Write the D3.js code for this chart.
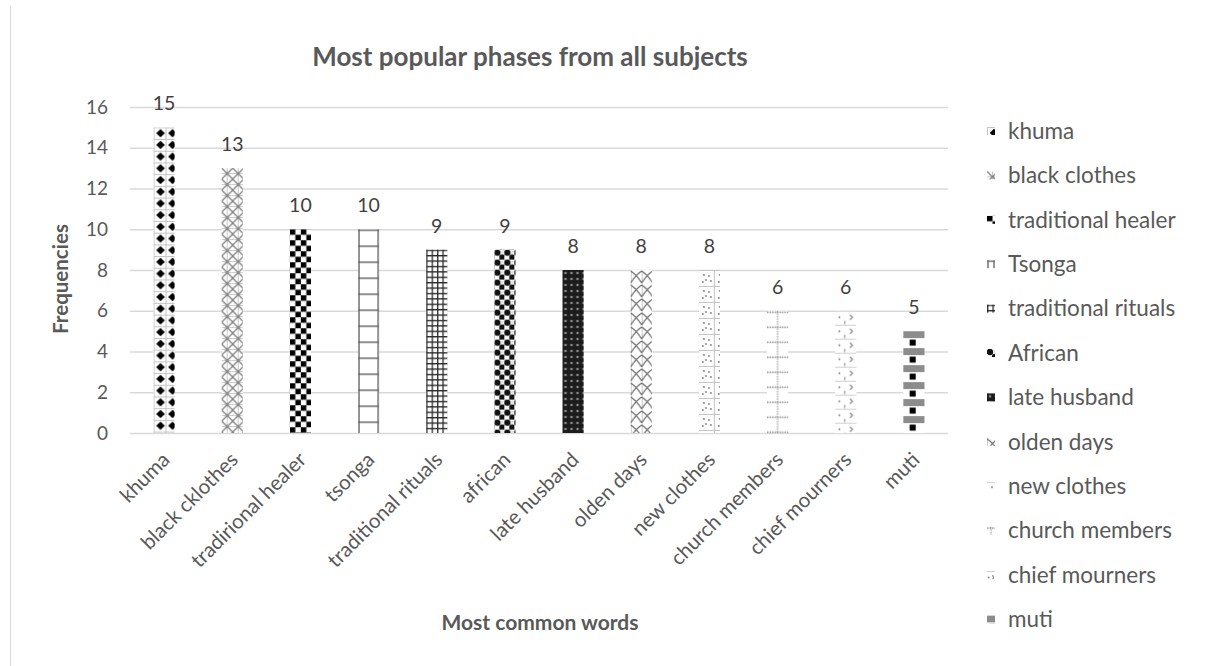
<!DOCTYPE html>
<html>
<head>
<meta charset="utf-8">
<script src="https://cdn.jsdelivr.net/npm/d3@7/dist/d3.min.js"></script>
<style>
  html, body { margin: 0; padding: 0; background: #ffffff; }
  svg { display: block; font-family: Lato, "Open Sans", sans-serif; }
</style>
</head>
<body>
<svg id="chart" width="1214" height="666"></svg>
<script>
// Phrase frequencies
const categories = ["khuma", "black cklothes", "tradirional healer", "tsonga", "traditional rituals", "african",
  "late husband", "olden days", "new clothes", "church members", "chief mourners", "muti"];
const legendLabels = ["khuma", "black clothes", "traditional healer", "Tsonga", "traditional rituals", "African",
  "late husband", "olden days", "new clothes", "church members", "chief mourners", "muti"];
const frequencies = [15, 13, 10, 10, 9, 9, 8, 8, 8, 6, 6, 5];
const yTicks = [0, 2, 4, 6, 8, 10, 12, 14, 16];
const patternKinds = ["diamond", "lattice", "checker", "ladder", "grid", "sphere",
  "weave", "cross", "dots", "dash", "arrow", "band"];

const chartTitle = "Most popular phases from all subjects";
const xTitle = "Most common words";
const yTitle = "Frequencies";

const TEXT = "#595959";
const svg = d3.select("#chart");
const defs = svg.append("defs");

const plot = { left: 130, right: 948, top: 107, bottom: 433 };

const x = d3.scaleBand().domain(categories).range([plot.left, plot.right]).paddingInner(0.69).paddingOuter(0.345);
const y = d3.scaleLinear().domain([0, 16]).range([plot.bottom, plot.top]);

// Pattern fills, anchored at (px, py); w = width of the filled shape
function addPattern(id, kind, px, py, w) {
  const p = defs.append("pattern").attr("id", id).attr("patternUnits", "userSpaceOnUse")
    .attr("x", px).attr("y", py);
  const size = (pw, ph) => { p.attr("width", pw).attr("height", ph);
    p.append("rect").attr("width", pw).attr("height", ph).attr("fill", "#fff"); };
  if (kind === "diamond") {
    size(12, 11.7);
    p.append("path").attr("d", "M0,0.5H12M0.5,0V11.7").attr("stroke", "#c4c4c4").attr("stroke-width", 1);
    p.append("path").attr("d", "M7,1.6L11.3,5.85L7,10.1L2.7,5.85Z").attr("fill", "#000");
  } else if (kind === "lattice") {
    size(11, 11);
    p.append("path").attr("d", "M0,5.5H11M5.5,0V11").attr("stroke", "#c8c8c8").attr("stroke-width", 1);
    p.append("path").attr("d", "M0,0L11,11M11,0L0,11").attr("stroke", "#7f7f7f").attr("stroke-width", 1.3);
  } else if (kind === "checker") {
    size(11, 11);
    p.append("rect").attr("x", 0).attr("y", 0).attr("width", 5.5).attr("height", 5.5).attr("fill", "#000");
    p.append("rect").attr("x", 5.5).attr("y", 5.5).attr("width", 5.5).attr("height", 5.5).attr("fill", "#000");
  } else if (kind === "ladder") {
    size(w, 16);
    p.append("path").attr("d", `M1,0V16M${w - 1},0V16M0,1H${w}`).attr("stroke", "#6a6a6a").attr("stroke-width", 1.4);
  } else if (kind === "grid") {
    size(5.4, 5.4);
    p.append("path").attr("d", "M0,0.7H5.4M0.7,0V5.4").attr("stroke", "#2a2a2a").attr("stroke-width", 1.3);
  } else if (kind === "sphere") {
    size(10, 10);
    p.append("circle").attr("cx", 3).attr("cy", 3).attr("r", 3.2).attr("fill", "#111");
    p.append("circle").attr("cx", 8).attr("cy", 8).attr("r", 3.2).attr("fill", "#111");
    p.append("rect").attr("x", 7).attr("y", 1).attr("width", 2.5).attr("height", 2.5).attr("fill", "#ddd");
  } else if (kind === "weave") {
    size(6, 6);
    p.append("rect").attr("width", 6).attr("height", 6).attr("fill", "#1c1c1c");
    p.append("circle").attr("cx", 3).attr("cy", 3).attr("r", 1.3).attr("fill", "#8a8a8a");
  } else if (kind === "cross") {
    size(11, 14);
    p.append("path").attr("d", "M0.5,0V14").attr("stroke", "#c8c8c8").attr("stroke-width", 1);
    p.append("path").attr("d", "M0,1Q6,5 11,13M11,1Q5,5 0,13").attr("fill", "none").attr("stroke", "#6f6f6f").attr("stroke-width", 1.3);
  } else if (kind === "dots") {
    size(16, 16);
    p.append("path").attr("d", "M0,0.5H16M15.5,0V16").attr("stroke", "#c4c4c4").attr("stroke-width", 1);
    [[5, 5], [10, 6], [7, 10], [12, 11], [4, 12]].forEach(([cx, cy]) =>
      p.append("circle").attr("cx", cx).attr("cy", cy).attr("r", 0.9).attr("fill", "#7a7a7a"));
  } else if (kind === "dash") {
    size(w, 15);
    p.append("path").attr("d", `M${w / 2},0V15`).attr("stroke", "#9a9a9a").attr("stroke-width", 1.2).attr("stroke-dasharray", "1.5,1");
    p.append("path").attr("d", `M0,1.5H${w}`).attr("stroke", "#8a8a8a").attr("stroke-width", 1.4).attr("stroke-dasharray", "1.5,1");
  } else if (kind === "arrow") {
    size(w, 14);
    p.append("path").attr("d", `M0,0.5H${w}`).attr("stroke", "#d0d0d0").attr("stroke-width", 1);
    p.append("path").attr("d", `M${w * 0.7},4L${w * 0.82},6.5L${w * 0.7},9`).attr("fill", "none").attr("stroke", "#8a8a8a").attr("stroke-width", 1.2);
    p.append("circle").attr("cx", w * 0.2).attr("cy", 6.5).attr("r", 1).attr("fill", "#8a8a8a");
    p.append("path").attr("d", `M${w * 0.45},10L${w * 0.45},13.5`).attr("stroke", "#9a9a9a").attr("stroke-width", 1.2);
  } else if (kind === "band") {
    size(w, 17);
    p.append("rect").attr("x", 0).attr("y", 0).attr("width", w).attr("height", 7).attr("fill", "#8c8c8c");
    p.append("rect").attr("x", w * 0.3).attr("y", 8.5).attr("width", 6).attr("height", 6).attr("fill", "#000");
  }
  return `url(#${id})`;
}

// Chart area border
svg.append("line").attr("x1", 10.5).attr("x2", 10.5).attr("y1", 6).attr("y2", 666)
  .attr("stroke", "#d9d9d9").attr("stroke-width", 1);

// Title
svg.append("text").attr("x", 530).attr("y", 66).attr("text-anchor", "middle")
  .attr("font-size", 26).attr("font-weight", "bold").attr("fill", TEXT).text(chartTitle);

// Gridlines and y tick labels
const yAxis = svg.append("g").attr("transform", `translate(${plot.left},0)`)
  .call(d3.axisLeft(y).tickValues(yTicks).tickSize(-(plot.right - plot.left)).tickPadding(22));
yAxis.select(".domain").remove();
yAxis.selectAll(".tick line").attr("stroke", "#d9d9d9").attr("stroke-width", 1.5);
yAxis.selectAll(".tick text").attr("fill", TEXT).attr("font-size", 19).attr("font-family", "Lato");

// Bars
const barG = svg.append("g");
frequencies.forEach((v, i) => {
  const bx = x(categories[i]);
  const fill = addPattern(`bar-fill-${i}`, patternKinds[i], bx, y(v), x.bandwidth());
  barG.append("rect").attr("x", bx).attr("y", y(v)).attr("width", x.bandwidth())
    .attr("height", y(0) - y(v)).attr("fill", fill);
});

// Value labels
svg.append("g").selectAll("text").data(frequencies).join("text")
  .attr("x", (d, i) => x(categories[i]) + x.bandwidth() / 2)
  .attr("y", d => y(d) - 17)
  .attr("text-anchor", "middle").attr("font-size", 19.5).attr("fill", "#404040")
  .text(d => d);

// Category labels
svg.append("g").selectAll("text").data(categories).join("text")
  .attr("transform", d => `translate(${x(d) + x.bandwidth() / 2 + 7},${plot.bottom + 28}) rotate(-45)`)
  .attr("text-anchor", "end").attr("font-size", 20.5).attr("fill", TEXT)
  .text(d => d);

// Axis titles
svg.append("text").attr("x", 540).attr("y", 630).attr("text-anchor", "middle")
  .attr("font-size", 21).attr("font-weight", "bold").attr("fill", TEXT).text(xTitle);
svg.append("text").attr("transform", `translate(68,${(plot.top + plot.bottom) / 2 + 9}) rotate(-90)`)
  .attr("text-anchor", "middle").attr("font-size", 20.5).attr("font-weight", "bold").attr("fill", TEXT).text(yTitle);

// Legend
const legend = svg.append("g");
legendLabels.forEach((lab, i) => {
  const ly = 131 + i * 44.4;
  const fill = addPattern(`legend-fill-${i}`, patternKinds[i], 987, ly - 4, 8);
  legend.append("rect").attr("x", 987).attr("y", ly - 4).attr("width", 8).attr("height", 8).attr("fill", fill);
  legend.append("text").attr("x", 1008).attr("y", ly).attr("dy", "0.35em")
    .attr("font-size", 22.5).attr("fill", TEXT).text(lab);
});
</script>
</body>
</html>
